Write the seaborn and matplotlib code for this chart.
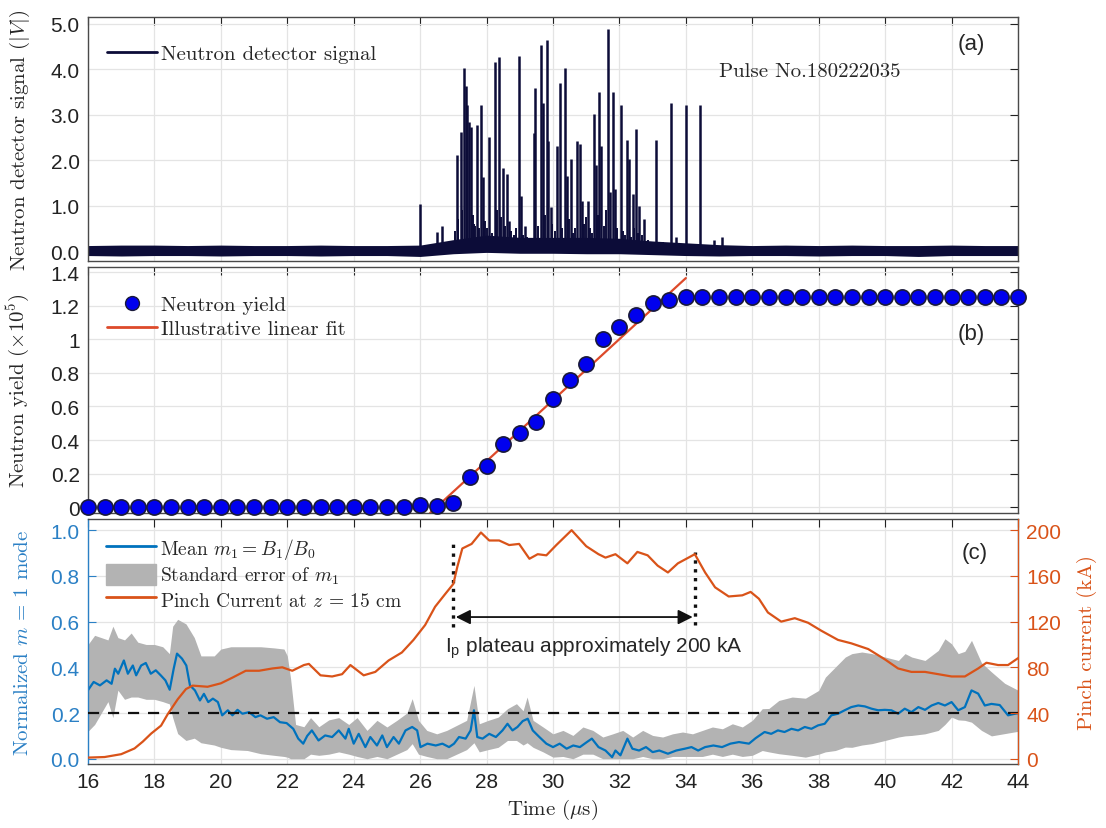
import numpy as np
import pandas as pd
import matplotlib
matplotlib.use("Agg")
import matplotlib.pyplot as plt
import seaborn as sns
from matplotlib.lines import Line2D
from matplotlib.patches import Patch
from matplotlib.ticker import FuncFormatter

# ---------------- data ----------------
# (a) neutron detector signal: baseline noise envelope + spikes
env_t = list(range(16, 45))
env_hi = [0.12, 0.13, 0.13, 0.12, 0.13, 0.12, 0.12, 0.13, 0.12, 0.12, 0.13, 0.25, 0.35, 0.3, 0.3,
          0.3, 0.28, 0.22, 0.18, 0.14, 0.12, 0.13, 0.12, 0.13, 0.12, 0.12, 0.13, 0.12, 0.12]
env_lo = [-0.1, -0.11, -0.1, -0.1, -0.11, -0.1, -0.1, -0.11, -0.1, -0.1, -0.12, -0.06, -0.03, -0.05, -0.05,
          -0.06, -0.06, -0.08, -0.1, -0.11, -0.1, -0.1, -0.11, -0.1, -0.1, -0.12, -0.1, -0.1, -0.1]
spike_t = [26.0, 26.52, 26.65, 27.12, 27.22, 27.32, 27.37, 27.42, 27.47, 27.53, 27.72, 27.82, 27.88, 28.08,
           28.25, 28.36, 28.5, 28.61, 28.69, 28.99, 29.03, 29.16, 29.43, 29.46, 29.64, 29.69, 29.81, 29.86,
           29.93, 30.11, 30.21, 30.36, 30.41, 30.54, 30.73, 30.81, 30.86, 31.04, 31.22, 31.3, 31.4, 31.45,
           31.67, 31.72, 31.8, 31.87, 32.04, 32.24, 32.3, 32.4, 32.5, 32.6, 32.74, 33.1, 33.55, 33.7, 34.0,
           34.43, 34.85, 35.1]
spike_v = [1.04, 0.41, 0.56, 2.11, 2.63, 4.02, 3.63, 3.21, 2.85, 2.74, 2.78, 3.21, 1.63, 2.5, 4.17, 4.26,
           1.83, 1.7, 0.67, 4.3, 1.22, 0.56, 2.59, 3.59, 4.54, 3.26, 4.64, 2.41, 0.96, 2.32, 3.69, 4.02,
           1.65, 2.02, 2.41, 2.35, 1.11, 1.11, 3.02, 1.9, 3.5, 2.3, 4.88, 1.3, 3.5, 1.37, 3.21, 2.44, 2.02,
           1.26, 2.69, 0.99, 0.7, 2.44, 3.26, 0.3, 3.21, 3.21, 0.25, 0.3]
small_t = [27.05, 27.15, 27.27, 27.58, 27.62, 27.66, 27.78, 27.95, 28.02, 28.15, 28.3, 28.42, 28.56, 28.75,
           28.82, 28.9, 29.1, 29.22, 29.3, 29.55, 29.75, 29.98, 30.05, 30.26, 30.47, 30.6, 30.66, 30.92,
           30.98, 31.1, 31.16, 31.35, 31.55, 31.6, 31.93, 32.1, 32.17, 32.36, 32.45, 32.55, 32.68, 32.85,
           32.95, 33.3]
small_v = [0.45, 0.7, 0.9, 0.8, 0.6, 0.55, 0.5, 0.65, 0.5, 0.4, 0.9, 0.75, 0.55, 0.45, 0.35, 0.5, 0.35,
           0.3, 0.25, 0.55, 0.8, 0.6, 0.45, 0.5, 0.7, 0.4, 0.5, 0.6, 0.75, 0.5, 0.4, 0.8, 0.55, 0.9, 0.5,
           0.45, 0.35, 0.3, 0.5, 0.4, 0.35, 0.25, 0.2, 0.2]

# (b) neutron yield (x1e5), every 0.5 us
yield_t = [16 + 0.5 * i for i in range(57)]
yield_v = [0, 0, 0, 0, 0, 0, 0, 0, 0, 0, 0, 0, 0, 0, 0, 0, 0, 0, 0, 0,
           0.012, 0.01, 0.026, 0.18, 0.246, 0.376, 0.44, 0.506, 0.646, 0.76, 0.853, 1.0, 1.073, 1.147,
           1.217, 1.231,
           1.253, 1.253, 1.253, 1.253, 1.253, 1.253, 1.253, 1.253, 1.253, 1.253, 1.253, 1.253, 1.253,
           1.253, 1.253, 1.253, 1.253, 1.253, 1.253, 1.253, 1.253]
fit_t = [26.3, 34.0]
fit_v = [-0.034, 1.364]

# (c) mean m1
m_t = [16.0, 16.17, 16.36, 16.56, 16.71, 16.81, 16.91, 17.08, 17.2, 17.35, 17.45, 17.6, 17.74, 17.89,
       18.04, 18.19, 18.33, 18.46, 18.58, 18.68, 18.83, 18.96, 19.07, 19.22, 19.37, 19.49, 19.62, 19.76,
       19.91, 20.04, 20.21, 20.35, 20.5, 20.65, 20.85, 21.04, 21.19, 21.39, 21.59, 21.78, 21.98, 22.18,
       22.33, 22.48, 22.6, 22.74, 22.94, 23.14, 23.35, 23.55, 23.75, 23.85, 24.0, 24.15, 24.35, 24.5,
       24.7, 24.86, 25.0, 25.2, 25.36, 25.56, 25.76, 25.91, 26.01, 26.22, 26.47, 26.67, 26.87, 27.02,
       27.17, 27.37, 27.52, 27.62, 27.72, 27.88, 28.08, 28.28, 28.48, 28.63, 28.78, 28.93, 29.09, 29.24,
       29.39, 29.59, 29.8, 30.0, 30.2, 30.41, 30.61, 30.81, 31.02, 31.17, 31.37, 31.58, 31.78, 31.88,
       32.03, 32.24, 32.39, 32.59, 32.8, 33.0, 33.2, 33.46, 33.71, 33.97, 34.17, 34.37, 34.58, 34.83,
       35.09, 35.34, 35.6, 35.9, 36.1, 36.37, 36.57, 36.77, 36.97, 37.18, 37.38, 37.58, 37.78, 37.98,
       38.18, 38.38, 38.58, 38.78, 38.98, 39.19, 39.39, 39.59, 39.79, 39.99, 40.19, 40.39, 40.59, 40.79,
       41.0, 41.2, 41.4, 41.6, 41.8, 42.0, 42.2, 42.4, 42.6, 42.8, 43.0, 43.2, 43.45, 43.7, 44.0]
m_v = [0.30, 0.336, 0.321, 0.343, 0.328, 0.394, 0.372, 0.43, 0.372, 0.408, 0.365, 0.408, 0.419, 0.372,
       0.387, 0.365, 0.343, 0.302, 0.394, 0.46, 0.438, 0.408, 0.321, 0.299, 0.255, 0.284, 0.248, 0.263,
       0.248, 0.19, 0.212, 0.19, 0.214, 0.197, 0.204, 0.182, 0.19, 0.175, 0.182, 0.16, 0.156, 0.131,
       0.088, 0.066, 0.1, 0.124, 0.08, 0.102, 0.095, 0.124, 0.088, 0.131, 0.066, 0.109, 0.051, 0.095,
       0.058, 0.102, 0.051, 0.095, 0.066, 0.124, 0.139, 0.124, 0.051, 0.066, 0.058, 0.066, 0.051, 0.066,
       0.095, 0.088, 0.124, 0.212, 0.095, 0.088, 0.109, 0.095, 0.124, 0.153, 0.124, 0.139, 0.165, 0.175,
       0.124, 0.095, 0.066, 0.051, 0.066, 0.044, 0.058, 0.051, 0.073, 0.088, 0.051, 0.036, 0.007, 0.036,
       0.015, 0.088, 0.044, 0.036, 0.051, 0.029, 0.036, 0.022, 0.036, 0.044, 0.051, 0.036, 0.051, 0.058,
       0.051, 0.066, 0.073, 0.066, 0.09, 0.117, 0.109, 0.124, 0.117, 0.131, 0.124, 0.139, 0.131, 0.146,
       0.153, 0.19, 0.197, 0.212, 0.226, 0.233, 0.229, 0.219, 0.212, 0.214, 0.212, 0.197, 0.219, 0.204,
       0.226, 0.214, 0.233, 0.244, 0.233, 0.248, 0.212, 0.226, 0.299, 0.285, 0.233, 0.24, 0.235, 0.19, 0.20]

# (c) standard error band of m1
band_t = [16.0, 16.2, 16.4, 16.6, 16.75, 16.9, 17.1, 17.3, 17.5, 17.75, 18.0, 18.25, 18.45, 18.55, 18.7,
          18.95, 19.2, 19.4, 19.8, 20.0, 20.3, 20.8, 21.2, 21.6, 21.9, 22.0, 22.1, 22.25, 22.5, 22.7,
          22.95, 23.25, 23.55, 23.85, 24.1, 24.4, 24.7, 25.0, 25.3, 25.6, 25.76, 25.95, 26.2, 26.5, 26.8,
          27.1, 27.4, 27.62, 27.78, 28.05, 28.35, 28.63, 28.9, 29.1, 29.22, 29.4, 29.7, 30.0, 30.3, 30.6,
          30.9, 31.2, 31.5, 31.8, 32.1, 32.4, 32.7, 33.0, 33.3, 33.6, 33.9, 34.2, 34.5, 34.8, 35.1, 35.4,
          35.7, 36.0, 36.3, 36.5, 36.8, 37.2, 37.6, 38.0, 38.2, 38.5, 38.8, 39.0, 39.3, 39.6, 40.0, 40.4,
          40.6, 40.8, 41.2, 41.6, 41.8, 42.0, 42.2, 42.4, 42.6, 42.9, 43.2, 43.6, 44.0]
band_lo = [0.12, 0.15, 0.20, 0.25, 0.18, 0.30, 0.26, 0.27, 0.27, 0.26, 0.26, 0.25, 0.24, 0.18, 0.11,
           0.08, 0.09, 0.07, 0.06, 0.05, 0.04, 0.036, 0.022, 0.015, 0.01, 0.007, 0.0, 0.0, 0.0, 0.02,
           0.015, 0.02, 0.03, 0.02, 0.01, 0.0, 0.01, 0.0, 0.02, 0.04, 0.066, 0.02, 0.01, 0.0, 0.0,
           0.02, 0.04, 0.07, 0.03, 0.04, 0.05, 0.08, 0.08, 0.06, 0.07, 0.05, 0.03, 0.007, 0.01, 0.0,
           0.02, 0.02, 0.0, 0.0, 0.0, 0.0, 0.01, 0.0, 0.0, 0.01, 0.01, 0.01, 0.01, 0.02, 0.01, 0.02,
           0.01, 0.015, 0.036, 0.03, 0.022, 0.015, 0.007, 0.02, 0.03, 0.036, 0.051, 0.05, 0.06, 0.066,
           0.08, 0.095, 0.1, 0.102, 0.109, 0.124, 0.15, 0.182, 0.17, 0.168, 0.16, 0.124, 0.1, 0.11, 0.12]
band_hi = [0.50, 0.54, 0.53, 0.52, 0.58, 0.53, 0.52, 0.55, 0.51, 0.50, 0.50, 0.49, 0.46, 0.58, 0.61,
           0.59, 0.53, 0.45, 0.45, 0.48, 0.49, 0.49, 0.49, 0.485, 0.48, 0.45, 0.35, 0.15, 0.14, 0.18,
           0.14, 0.17, 0.18, 0.15, 0.18, 0.124, 0.168, 0.139, 0.168, 0.2, 0.263, 0.168, 0.124, 0.109, 0.124,
           0.146, 0.168, 0.321, 0.153, 0.168, 0.182, 0.219, 0.241, 0.21, 0.27, 0.168, 0.139, 0.109, 0.124,
           0.102, 0.139, 0.124, 0.095, 0.109, 0.124, 0.095, 0.124, 0.102, 0.095, 0.109, 0.117, 0.109,
           0.124, 0.139, 0.131, 0.153, 0.139, 0.168, 0.219, 0.22, 0.255, 0.27, 0.265, 0.299, 0.357, 0.401,
           0.445, 0.46, 0.467, 0.46, 0.445, 0.43, 0.46, 0.445, 0.43, 0.474, 0.525, 0.503, 0.46, 0.47,
           0.518, 0.42, 0.38, 0.33, 0.3]

# (c) pinch current at z = 15 cm (kA)
cur_t = [16.0, 16.5, 17.0, 17.4, 17.65, 17.9, 18.2, 18.4, 18.7, 18.95, 19.15, 19.6, 20.0, 20.35, 20.75,
         21.15, 21.55, 21.85, 22.15, 22.5, 22.65, 23.0, 23.35, 23.65, 23.9, 24.3, 24.65, 25.05, 25.45,
         25.8, 26.15, 26.45, 26.75, 27.0, 27.12, 27.27, 27.55, 27.83, 28.08, 28.38, 28.68, 28.98, 29.29,
         29.54, 29.8, 30.1, 30.56, 31.0, 31.37, 31.58, 31.88, 32.24, 32.54, 32.85, 33.15, 33.46, 33.76,
         34.27, 34.58, 34.88, 35.29, 35.7, 35.95, 36.2, 36.47, 36.87, 37.28, 37.68, 38.08, 38.58, 38.98,
         39.49, 39.99, 40.39, 40.79, 41.2, 41.6, 42.0, 42.4, 42.8, 43.05, 43.4, 43.7, 44.0]
cur_kA = [1, 1.5, 4, 9, 15, 22, 29, 39, 52, 61, 64, 63, 66, 71, 77, 77, 79, 80, 77, 82, 83, 73, 72, 74,
          82, 73, 76, 86, 93, 104, 117, 133, 144, 153, 168, 184, 188, 198, 191, 191, 187, 188, 175, 179,
          178, 187, 200, 186, 179, 176, 179, 171, 181, 178, 169, 163, 171, 179, 163, 150, 142, 143, 146,
          140, 128, 120, 123, 119, 112, 104, 101, 96, 87, 79, 76, 76, 74, 72, 72, 79, 84, 82, 82, 88]

threshold = 0.2
plateau_start, plateau_end = 26.99, 34.29

# ---------------- style ----------------
sns.set_style("white")
plt.rcParams["font.family"] = ["Liberation Sans", "DejaVu Sans"]
plt.rcParams["mathtext.fontset"] = "cm"
plt.rcParams["axes.unicode_minus"] = False

SERIF = "cmr10"
NAVY = "#0c0c38"
BLUE = "#0072BD"
BLUE_TXT = "#2b80c5"
ORANGE = "#D95319"
FIT = "#dd4a2a"
GRAY = "#b3b3b3"
GRID = "#e4e4e4"

fig = plt.figure(figsize=(11.06, 8.29), dpi=100)
W, H = 1106, 829
L, R = 88, 1018
LABEL_X = -0.060


def add_ax(top, bottom):
    return fig.add_axes([L / W, 1 - bottom / H, (R - L) / W, (bottom - top) / H])


ax_a = add_ax(18, 262)
ax_b = add_ax(268, 514)
ax_c = add_ax(520, 765)


def style(ax, labels_x=False):
    ax.set_xlim(16, 44)
    ax.set_xticks(range(16, 45, 2))
    ax.grid(True, color=GRID, lw=0.9)
    ax.set_axisbelow(True)
    for s in ax.spines.values():
        s.set_color("#4a4a4a")
        s.set_linewidth(1.0)
        s.set_visible(True)
    ax.tick_params(direction="in", top=True, right=True, length=6, width=0.8,
                   labelsize=15, colors="#222222", pad=6)
    if not labels_x:
        ax.tick_params(labelbottom=False)


# ---------- (a) ----------
style(ax_a)
ax_a.fill_between(env_t, env_lo, env_hi, color=NAVY, lw=0)
ax_a.vlines(small_t, 0, small_v, color=NAVY, lw=1.4)
ax_a.vlines(spike_t, 0, spike_v, color=NAVY, lw=1.8)
sns.lineplot(x=env_t, y=[0] * len(env_t), ax=ax_a, color=NAVY, lw=1.0, legend=False)
ax_a.set_ylim(-0.22, 5.15)
ax_a.set_yticks(np.arange(0, 5.01, 1.0))
ax_a.yaxis.set_major_formatter(FuncFormatter(lambda v, p: f"{v:.1f}"))
ax_a.set_ylabel(r"Neutron detector signal $(|V|)$", fontfamily=SERIF, fontsize=15)
ax_a.yaxis.set_label_coords(LABEL_X, 0.5)
ax_a.legend(handles=[Line2D([], [], color=NAVY, lw=2)], labels=["Neutron detector signal"],
            loc="upper left", bbox_to_anchor=(0.0, 0.965), frameon=False,
            prop={"family": SERIF, "size": 15}, handlelength=2.4, handletextpad=0.2)
ax_a.text(0.776, 0.78, "Pulse No.180222035", transform=ax_a.transAxes, ha="center", va="center",
          fontfamily=SERIF, fontsize=15)
ax_a.text(0.95, 0.89, "(a)", transform=ax_a.transAxes, ha="center", va="center", fontsize=16)

# ---------- (b) ----------
style(ax_b)
sns.lineplot(x=fit_t, y=fit_v, ax=ax_b, color=FIT, lw=1.6, legend=False, zorder=2)
sns.scatterplot(x=yield_t, y=yield_v, ax=ax_b, s=120, color="#0000ee", edgecolor="#1a1a3a",
                linewidth=1.2, clip_on=False, zorder=3, legend=False)
ax_b.set_ylim(-0.034, 1.43)
ax_b.set_yticks(np.arange(0, 1.41, 0.2))
ax_b.yaxis.set_major_formatter(FuncFormatter(lambda v, p: f"{v:g}"))
ax_b.set_ylabel(r"Neutron yield $(\times 10^5)$", fontfamily=SERIF, fontsize=15)
ax_b.yaxis.set_label_coords(LABEL_X, 0.5)
ax_b.legend(handles=[Line2D([], [], ls="none", marker="o", ms=10, mfc="#0000ee", mec="#1a1a3a"),
                     Line2D([], [], color=FIT, lw=2)],
            labels=["Neutron yield", "Illustrative linear fit"],
            loc="upper left", bbox_to_anchor=(0.0, 0.96), frameon=False,
            prop={"family": SERIF, "size": 15}, handlelength=2.4, handletextpad=0.2,
            labelspacing=0.25)
ax_b.text(0.95, 0.73, "(b)", transform=ax_b.transAxes, ha="center", va="center", fontsize=16)

# ---------- (c) ----------
style(ax_c, labels_x=True)
ax_c.tick_params(right=False)
ax_c.fill_between(band_t, band_lo, band_hi, color=GRAY, lw=0, zorder=1)
sns.lineplot(x=m_t, y=m_v, ax=ax_c, color=BLUE, lw=1.6, legend=False, zorder=2)
ax_c.axhline(threshold, color="#111111", ls=(0, (5, 4)), lw=1.6, zorder=3)
ax_c.set_ylim(-0.023, 1.049)
ax_c.set_yticks(np.arange(0, 1.01, 0.2))
ax_c.yaxis.set_major_formatter(FuncFormatter(lambda v, p: f"{v:.1f}"))
ax_c.tick_params(axis="y", colors=BLUE_TXT)
ax_c.spines["left"].set_color(BLUE_TXT)
ax_c.set_ylabel(r"Normalized $m$ = 1 mode", fontfamily=SERIF, fontsize=15, color=BLUE_TXT)
ax_c.yaxis.set_label_coords(LABEL_X, 0.5)
ax_c.set_xlabel(r"Time ($\mu$s)", fontfamily=SERIF, fontsize=15)

ax_r = ax_c.twinx()
sns.lineplot(x=cur_t, y=cur_kA, ax=ax_r, color=ORANGE, lw=1.6, legend=False)
ax_r.set_ylim(-0.023 * 200, 1.049 * 200)
ax_r.set_yticks(range(0, 201, 40))
ax_r.tick_params(axis="y", direction="in", length=6, width=0.8, labelsize=15, colors=ORANGE, pad=6)
ax_r.spines["right"].set_color(ORANGE)
for s in ["left", "top", "bottom"]:
    ax_r.spines[s].set_visible(False)
ax_r.set_ylabel("Pinch current (kA)", fontfamily=SERIF, fontsize=15, color=ORANGE)
ax_r.yaxis.set_label_coords(1.063, 0.5)
ax_r.grid(False)

# plateau markers
ax_c.plot([plateau_start, plateau_start], [0.576, 0.94], color="#111111", ls=":", lw=2.4, zorder=4)
ax_c.plot([plateau_end, plateau_end], [0.584, 0.905], color="#111111", ls=":", lw=2.4, zorder=4)
ax_c.annotate("", xy=(plateau_start, 0.62), xytext=(plateau_end, 0.62),
              arrowprops=dict(arrowstyle="<|-|>", color="#111111", lw=1.3, mutation_scale=22),
              zorder=4)
ax_c.text(26.75, 0.49, r"$\mathregular{I_p}$ plateau approximately 200 kA", ha="left", va="center",
          fontsize=15, zorder=5)
ax_c.text(0.953, 0.865, "(c)", transform=ax_c.transAxes, ha="center", va="center", fontsize=16)

ax_r.legend(handles=[Line2D([], [], color=BLUE, lw=2), Patch(color=GRAY),
                     Line2D([], [], color=ORANGE, lw=2)],
            labels=[r"Mean $m_1 = B_1/B_0$", r"Standard error of $m_1$",
                    r"Pinch Current at $z$ = 15 cm"],
            loc="upper left", bbox_to_anchor=(0.0, 1.0), frameon=False,
            prop={"family": SERIF, "size": 14}, handlelength=2.6, handleheight=1.3,
            handletextpad=0.2, labelspacing=0.12)

fig.savefig("out.png", dpi=100)
